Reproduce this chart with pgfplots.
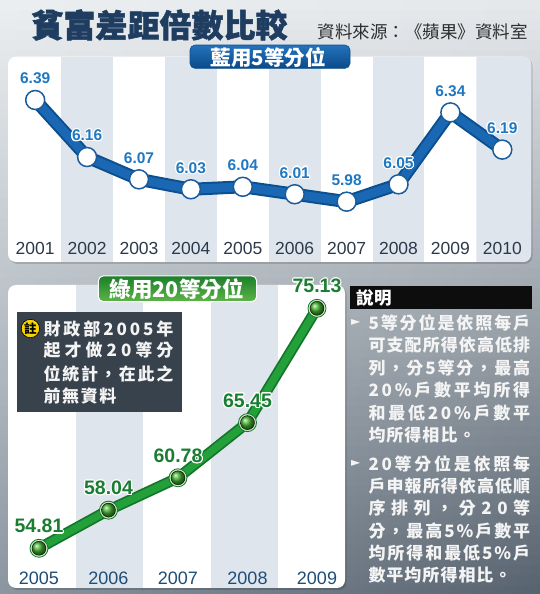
\documentclass[border=0pt]{standalone}
\usepackage{fontspec}
\setmainfont{Liberation Sans}
\newfontfamily\cjk{Noto Sans CJK TC}
\newfontfamily\cjkheavy{Noto Sans CJK TC}[FakeBold=1.6]
\newfontfamily\dejavu{DejaVu Sans}
\usepackage{pgfplots}
\pgfplotsset{compat=1.18}
\usepackage{pgfplotstable}
\usepackage[copies]{contour}
\contourlength{1.1pt}
\contournumber{16}

\definecolor{bgTL}{HTML}{ECEFF1}
\definecolor{bgTR}{HTML}{E6E9EC}
\definecolor{bgBL}{HTML}{8A95A0}
\definecolor{bgBR}{HTML}{56626E}
\definecolor{stripe}{HTML}{DFE5EC}
\definecolor{blueDark}{HTML}{0C4F8E}
\definecolor{blueMain}{HTML}{1A67B3}
\definecolor{blueEdge}{HTML}{1A5C9C}
\definecolor{labelBlue}{HTML}{1F78C1}
\definecolor{yearTop}{HTML}{2B3A4A}
\definecolor{yearBot}{HTML}{1E4D78}
\definecolor{greenDark}{HTML}{13762A}
\definecolor{greenMain}{HTML}{23A03A}
\definecolor{ballGreen}{HTML}{3FAE2C}
\definecolor{ringGreen}{HTML}{CFE8C4}
\definecolor{labelGreen}{HTML}{1B7D32}
\definecolor{titleNavy}{HTML}{1F3D60}
\definecolor{srcGray}{HTML}{2E2E2E}
\definecolor{noteBox}{HTML}{38424C}
\definecolor{noteYellow}{HTML}{F6D400}
\definecolor{lblBlueTop}{HTML}{2373BC}
\definecolor{lblBlueBot}{HTML}{0B4A8A}
\definecolor{lblGreenTop}{HTML}{1C7E2A}
\definecolor{lblGreenBot}{HTML}{5DB548}
\definecolor{txtWhite}{HTML}{F4F4F4}

\makeatletter
\def\sp@r#1#2\@nil{#1\ifx\relax#2\relax\else\hfill\sp@r#2\@nil\fi}
\newcommand\jline[2]{\makebox[#1][s]{\sp@r#2\@nil}}
\makeatother

\pgfplotstableread{
x year val
0 2001 6.39
1 2002 6.16
2 2003 6.07
3 2004 6.03
4 2005 6.04
5 2006 6.01
6 2007 5.98
7 2008 6.05
8 2009 6.34
9 2010 6.19
}\quintile

\pgfplotstableread{
x year val
0 2005 54.81
1 2006 58.04
2 2007 60.78
3 2008 65.45
4 2009 75.13
}\vigintile

\begin{document}
\begin{tikzpicture}[x=1pt,y=1pt]
\useasboundingbox (0,0) rectangle (540,594);
\foreach \i in {0,...,59} {
  \pgfmathsetmacro\p{100*(\i+0.5)/60}
  \shade[left color=bgTL!\p!bgBL, right color=bgTR!\p!bgBR] (0,\i*9.9) rectangle (540,\i*9.9+10.4);
}

% title and source
\node[font=\cjkheavy\bfseries\fontsize{32}{34}\selectfont, text=titleNavy, inner sep=0] at (159.5,569) {貧富差距倍數比較};
\node[font=\cjk\fontsize{17.5}{20}\selectfont, text=srcGray, inner sep=0] at (422.7,561.7) {資料來源：《蘋果》資料室};

% panels
\fill[black, opacity=0.15, rounded corners=8pt] (9.5,330) rectangle (532.5,535.8);
\fill[white, rounded corners=8pt] (8,332) rectangle (531,537.3);
\fill[black, opacity=0.15, rounded corners=8pt] (9.5,4) rectangle (346.5,307.5);
\fill[white, rounded corners=8pt] (8,6) rectangle (345,309);

% top chart
\begin{axis}[
  at={(8pt,332pt)}, anchor=south west,
  scale only axis, width=523pt, height=205.3pt,
  xmin=-0.524, xmax=9.553, ymin=5.7368, ymax=6.5646,
  axis on top,
  axis line style={draw=none}, ytick=\empty,
  xtick=data, xticklabels from table={\quintile}{year},
  major tick length=0pt,
  x tick label style={font=\fontsize{17.5}{20}\selectfont, text=yearTop, anchor=center, yshift=14pt},
  clip=false,
]
\fill[stripe] (axis cs:0.5,5.7368) rectangle (axis cs:1.5,6.5646);
\fill[stripe] (axis cs:2.5,5.7368) rectangle (axis cs:3.5,6.5646);
\fill[stripe] (axis cs:4.5,5.7368) rectangle (axis cs:5.5,6.5646);
\fill[stripe] (axis cs:6.5,5.7368) rectangle (axis cs:7.5,6.5646);
\fill[stripe] (axis cs:8.5,5.7368) [rounded corners=8pt] -- (axis cs:9.553,5.7368) -- (axis cs:9.553,6.5646) [sharp corners] -- (axis cs:8.5,6.5646) -- cycle;
\addplot[no marks, line width=13pt, color=blueDark, line join=round, line cap=round] table[x=x,y=val]{\quintile};
\addplot[no marks, line width=9pt, color=blueMain, line join=round, line cap=round] table[x=x,y=val]{\quintile};
\addplot[only marks, mark=*, mark size=9.5pt,
  mark options={fill=white, draw=blueEdge, line width=1.5pt},
  nodes near coords={\contour{white}{\pgfmathprintnumber[fixed,fixed zerofill,precision=2,assume math mode=true]{\pgfplotspointmeta}}},
  every node near coord/.append style={font=\bfseries\fontsize{15.5}{16}\selectfont, text=labelBlue, anchor=center, yshift=21pt},
] table[x=x,y=val]{\quintile};
\end{axis}

% bottom chart
\begin{axis}[
  at={(8pt,6pt)}, anchor=south west,
  scale only axis, width=337pt, height=303pt,
  xmin=-0.446, xmax=4.403, ymin=51.448, ymax=77.105,
  axis on top,
  axis line style={draw=none}, ytick=\empty,
  xtick=data, xticklabels from table={\vigintile}{year},
  major tick length=0pt,
  x tick label style={font=\fontsize{18}{20}\selectfont, text=yearBot, anchor=center, yshift=10pt},
  clip=false,
]
\fill[stripe] (axis cs:0.531,51.448) rectangle (axis cs:1.499,77.105);
\fill[stripe] (axis cs:2.468,51.448) rectangle (axis cs:3.436,77.105);
\addplot[no marks, line width=11pt, color=greenDark, line join=round, line cap=round] table[x=x,y=val]{\vigintile};
\addplot[no marks, line width=7.5pt, color=greenMain, line join=round, line cap=round] table[x=x,y=val]{\vigintile};
\addplot[only marks, mark=*, mark size=9pt,
  mark options={fill=ringGreen, draw=greenDark, line width=0.8pt}] table[x=x,y=val]{\vigintile};
\addplot[only marks, mark=ball, mark size=7pt,
  mark options={ball color=ballGreen},
  nodes near coords={\contour{white}{\pgfmathprintnumber[fixed,fixed zerofill,precision=2,assume math mode=true]{\pgfplotspointmeta}}},
  every node near coord/.append style={font=\bfseries\fontsize{19.5}{20}\selectfont, text=labelGreen, anchor=center, yshift=21.5pt},
] table[x=x,y=val]{\vigintile};
\end{axis}

% section labels
\node[rounded corners=5pt, top color=lblBlueTop, bottom color=lblBlueBot, draw=blueDark, line width=0.6pt,
  minimum width=160pt, minimum height=23.3pt, inner sep=0] at (270,537.3) {};
\node[font=\cjk\bfseries\fontsize{20.5}{22}\selectfont, text=white, inner sep=0] at (268.3,536) {藍用5等分位};
\node[rounded corners=5pt, top color=lblGreenTop, bottom color=lblGreenBot, draw=white, line width=1pt,
  minimum width=158.4pt, minimum height=25.7pt, inner sep=0] at (177.5,305.2) {};
\node[font=\cjk\bfseries\fontsize{21.5}{22}\selectfont, text=white, inner sep=0] at (176.7,305) {綠用20等分位};

% note box
\fill[noteBox] (16.7,182.3) rectangle (181.7,282.3);
\node[circle, fill=noteYellow, draw=black, line width=0.6pt, minimum size=18.4pt, inner sep=0,
  font=\cjk\bfseries\fontsize{12.5}{13}\selectfont] at (30.4,265.5) {註};
\begin{scope}[every node/.style={anchor=west, inner sep=0, text=txtWhite, font=\cjk\bfseries\fontsize{17}{20}\selectfont}]
\node at (43.3,265) {\jline{130pt}{財政部2005年}};
\node at (43.3,243.5) {\jline{130pt}{起才做20等分}};
\node at (43.3,220.5) {\jline{130pt}{位統計，在此之}};
\node at (43.3,198) {\jline{73pt}{前無資料}};
\end{scope}

% explanation
\fill[black!95] (350,284.7) rectangle (532,308);
\node[anchor=west, inner sep=0, text=white, font=\cjk\bfseries\fontsize{17.5}{20}\selectfont] at (356.5,296.5) {說明};
\begin{scope}[every node/.style={anchor=west, inner sep=0, text=txtWhite, font=\cjk\bfseries\fontsize{17}{20}\selectfont}]
\node[font=\dejavu\fontsize{12}{12}\selectfont] at (351,271.5) {►};
\node at (368.3,271) {\jline{161.7pt}{5等分位是依照每戶}};
\node at (368.3,248.6) {\jline{161.7pt}{可支配所得依高低排}};
\node at (368.3,226.2) {\jline{161.7pt}{列，分5等分，最高}};
\node at (368.3,203.8) {\jline{161.7pt}{20\%戶數平均所得}};
\node at (368.3,181.4) {\jline{161.7pt}{和最低20\%戶數平}};
\node at (368.3,159) {\jline{107pt}{均所得相比。}};
\node[font=\dejavu\fontsize{12}{12}\selectfont] at (351,131) {►};
\node at (368.3,130.5) {\jline{161.7pt}{20等分位是依照每}};
\node at (368.3,108.1) {\jline{161.7pt}{戶申報所得依高低順}};
\node at (368.3,85.7) {\jline{161.7pt}{序排列，分20等}};
\node at (368.3,63.3) {\jline{161.7pt}{分，最高5\%戶數平}};
\node at (368.3,40.9) {\jline{161.7pt}{均所得和最低5\%戶}};
\node at (368.3,18.5) {\jline{143pt}{數平均所得相比。}};
\end{scope}
\end{tikzpicture}
\end{document}
